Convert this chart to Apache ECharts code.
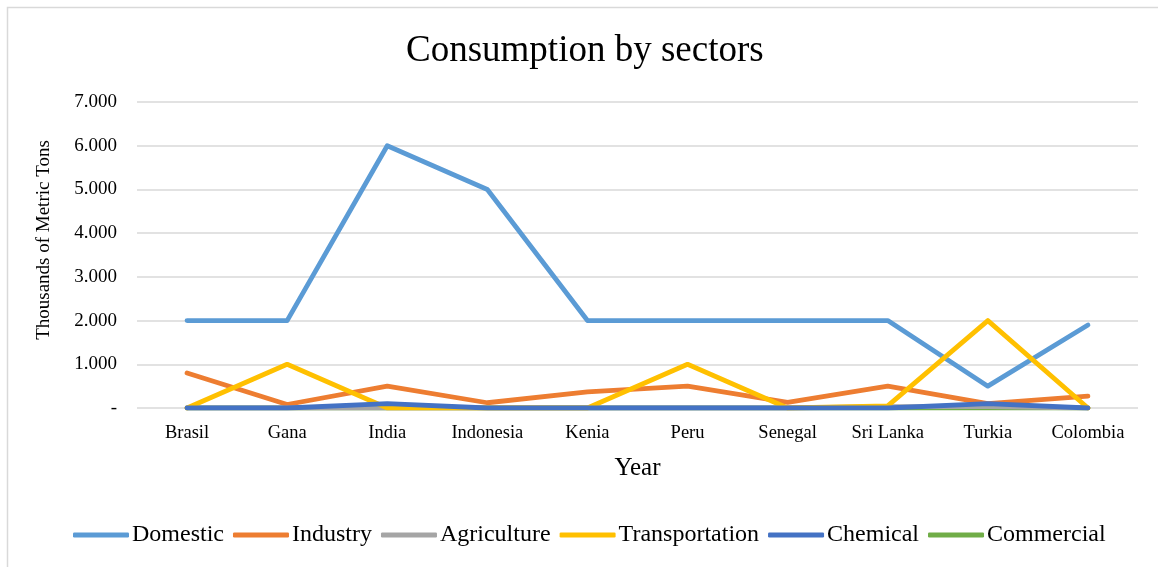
<!DOCTYPE html>
<html>
<head>
<meta charset="utf-8">
<script src="https://cdn.jsdelivr.net/npm/echarts@6/dist/echarts.min.js"></script>
<style>
  html, body { margin: 0; padding: 0; background: #fff; }
  #chart { width: 1158px; height: 567px; }
</style>
</head>
<body>
<div id="chart"></div>
<script>
// Countries along the category axis
const countries = ['Brasil', 'Gana', 'India', 'Indonesia', 'Kenia', 'Peru', 'Senegal', 'Sri Lanka', 'Turkia', 'Colombia'];

// Consumption per sector, thousands of metric tons
const domestic       = [2000, 2000, 6000, 5000, 2000, 2000, 2000, 2000, 500, 1900];
const industry       = [800, 80, 500, 120, 370, 500, 130, 500, 100, 270];
const agriculture    = [0, 0, 0, 0, 0, 0, 0, 30, 30, 0];
const transportation = [0, 1000, 0, 0, 0, 1000, 0, 50, 2000, 0];
const chemical       = [0, 0, 100, 0, 0, 0, 0, 0, 100, 0];
const commercial     = [0, 0, 0, 0, 0, 0, 0, 0, 0, 0];

const sectorNames = ['Domestic', 'Industry', 'Agriculture', 'Transportation', 'Chemical', 'Commercial'];

const serif = '"Liberation Serif", "DejaVu Serif", serif';

function makeLine(name, values, color, z) {
  return {
    name: name,
    type: 'line',
    data: values,
    symbol: 'none',
    z: z,
    color: color,
    lineStyle: { width: 4.8, color: color, cap: 'round', join: 'round' }
  };
}

const chart = echarts.init(document.getElementById('chart'));
chart.setOption({
  animation: false,
  backgroundColor: '#ffffff',
  textStyle: { fontFamily: serif },
  graphic: [{
    type: 'rect',
    shape: { x: 7.5, y: 7.5, width: 1170, height: 580 },
    style: { fill: 'none', stroke: '#d9d9d9', lineWidth: 1.5 },
    silent: true
  }],
  title: {
    text: 'Consumption by sectors',
    left: 401,
    top: 28,
    textStyle: { fontFamily: serif, fontSize: 37, fontWeight: 'normal', color: '#000' }
  },
  legend: {
    data: sectorNames,
    top: 518,
    left: 68,
    icon: 'roundRect',
    itemWidth: 56,
    itemHeight: 5,
    itemGap: 9,
    textStyle: { fontFamily: serif, fontSize: 24, color: '#000', padding: [0, 0, 0, -2] }
  },
  grid: { left: 137, right: 20, top: 102, bottom: 159 },
  xAxis: {
    type: 'category',
    data: countries,
    boundaryGap: true,
    name: 'Year',
    nameLocation: 'middle',
    nameGap: 48,
    nameTextStyle: { fontFamily: serif, fontSize: 25, color: '#000' },
    axisLine: { show: false },
    axisTick: { show: false },
    axisLabel: { fontFamily: serif, fontSize: 18.5, color: '#000', margin: 16 }
  },
  yAxis: {
    type: 'value',
    min: 0,
    max: 7000,
    interval: 1000,
    name: 'Thousands of Metric Tons',
    nameLocation: 'middle',
    nameGap: 83,
    nameTextStyle: { fontFamily: serif, fontSize: 19, color: '#000', padding: [0, 0, 0, 30] },
    axisLine: { show: false },
    axisTick: { show: false },
    splitLine: { lineStyle: { color: '#d9d9d9', width: 1.5 } },
    axisLabel: {
      fontFamily: serif,
      fontSize: 19,
      color: '#000',
      margin: 20,
      formatter: function (v) {
        if (v === 0) return '-';
        return String(v / 1000) + '.000';
      }
    }
  },
  series: [
    makeLine('Commercial', commercial, '#70AD47', 1),
    makeLine('Domestic', domestic, '#5B9BD5', 2),
    makeLine('Industry', industry, '#ED7D31', 3),
    makeLine('Agriculture', agriculture, '#A5A5A5', 4),
    makeLine('Transportation', transportation, '#FFC000', 5),
    makeLine('Chemical', chemical, '#4472C4', 6)
  ]
});
</script>
</body>
</html>
